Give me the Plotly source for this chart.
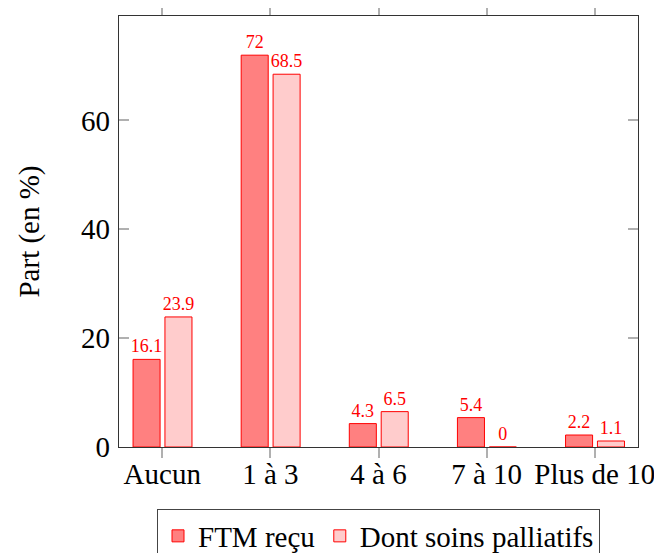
import plotly.graph_objects as go

categories = ["Aucun", "1 à 3", "4 à 6", "7 à 10", "Plus de 10"]
ftm_recu = [16.1, 72, 4.3, 5.4, 2.2]
soins_palliatifs = [23.9, 68.5, 6.5, 0, 1.1]
series_names = ["FTM reçu", "Dont soins palliatifs"]
y_ticks = [0, 20, 40, 60]

FONT = "Liberation Serif"
FS = 29
fig = go.Figure()
fig.add_trace(go.Bar(
    x=categories, y=ftm_recu, name=series_names[0],
    marker=dict(color="#ff8080", line=dict(color="#ff0000", width=1)),
    width=0.25, offset=-0.27,
    text=[f"{v:g}" for v in ftm_recu], textposition="outside",
    textfont=dict(color="#ff0000", size=18, family=FONT),
    constraintext="none", cliponaxis=False,
))
fig.add_trace(go.Bar(
    x=categories, y=soins_palliatifs, name=series_names[1],
    marker=dict(color="#ffcccc", line=dict(color="#ff0000", width=1)),
    width=0.25, offset=0.025,
    text=[f"{v:g}" for v in soins_palliatifs], textposition="outside",
    textfont=dict(color="#ff0000", size=18, family=FONT),
    constraintext="none", cliponaxis=False,
))

fig.update_layout(
    width=654, height=545,
    margin=dict(l=111, r=24, t=8, b=106, autoexpand=False),
    paper_bgcolor="white", plot_bgcolor="white",
    font=dict(family=FONT, size=FS, color="black"),
    barmode="group",
    showlegend=True,
    legend=dict(
        orientation="h", x=0.5, xanchor="center", y=-0.145, yanchor="top",
        bgcolor="white", bordercolor="#444444", borderwidth=1,
        font=dict(family=FONT, size=FS), itemwidth=30, tracegroupgap=0,
    ),
    xaxis=dict(
        range=[-0.4, 4.4], showgrid=False, zeroline=False,
        showline=True, linecolor="#333333", linewidth=1.2, mirror="ticks",
        ticks="outside", ticklen=10, tickcolor="#b0b0b0", tickwidth=1.5,
        tickfont=dict(family=FONT, size=FS), ticklabelstandoff=-9,
    ),
    yaxis=dict(
        range=[0, 79.2], tickvals=y_ticks, showgrid=False, zeroline=False,
        showline=True, linecolor="#333333", linewidth=1.2, mirror="ticks",
        ticks="inside", ticklen=10, tickcolor="#b0b0b0", tickwidth=1.5,
        tickfont=dict(family=FONT, size=FS), ticklabelstandoff=2,
        title=dict(text="Part (en %)", font=dict(family=FONT, size=FS), standoff=32),
    ),
)

fig.write_html("out.html")
